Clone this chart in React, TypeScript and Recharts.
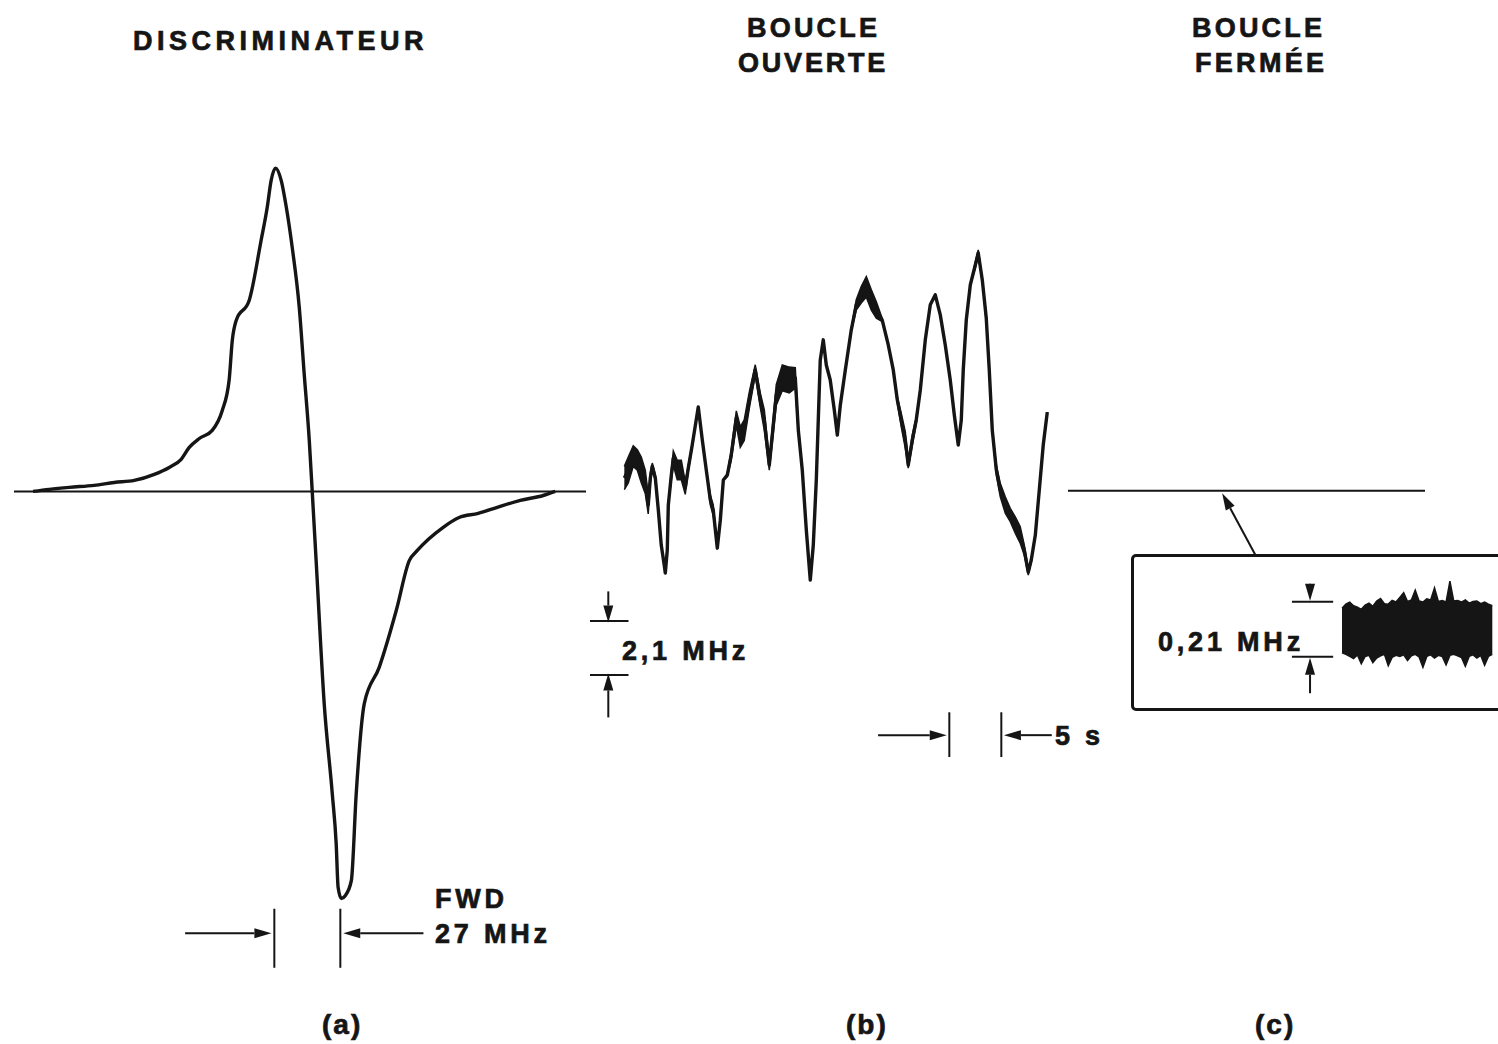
import React from "react";
import {
  LineChart,
  ComposedChart,
  Line,
  Area,
  XAxis,
  YAxis,
  ReferenceLine,
} from "recharts";

const INK = "#151515";
const FONT = "'Liberation Sans', Arial, Helvetica, sans-serif";
const NO_MARGIN = { top: 0, right: 0, bottom: 0, left: 0 };

// (a) discriminator response: frequency offset (MHz) -> normalised output
const discFreq = [
  -114.2, -107.6, -99.4, -89.2, -81.0, -72.8, -64.6, -58.5, -53.6, -50.3,
  -46.2, -40.9, -36.8, -34.0, -32.7, -31.1, -25.8, -20.9, -18.4, -16.8,
  -15.0, -12.7, -10.6, -8.2, -5.3, -3.3, -1.2, 0, 1.6, 4.9,
  8.2, 9.8, 10.6, 11.9, 13.5, 16.0, 18.0, 21.3, 27.4, 34.4,
  39.7, 43.0, 53.6, 60.1, 67.9, 75.7, 85.1, 94.5, 99.4,
];
const discAmp = [
  0, 0.005, 0.01, 0.015, 0.022, 0.027, 0.042, 0.059, 0.079, 0.108,
  0.13, 0.15, 0.199, 0.273, 0.371, 0.42, 0.469, 0.617, 0.698, 0.764,
  0.794, 0.764, 0.698, 0.6, 0.452, 0.29, 0.125, 0, -0.17, -0.521,
  -0.742, -0.865, -0.973, -1.0, -0.993, -0.956, -0.742, -0.521, -0.432, -0.292,
  -0.17, -0.145, -0.088, -0.064, -0.054, -0.039, -0.022, -0.01, 0,
];
const fwdStart = -15.5; // MHz
const fwdWidth = 27; // MHz

// (b) open loop: time (s), frequency (MHz), jitter half-width (MHz)
const openTime = [
  0.1, 0.48, 0.96, 1.35, 1.73, 2.12, 2.4, 2.6, 2.79, 3.08,
  3.37, 3.65, 3.94, 4.04, 4.23, 4.33, 4.62, 4.81, 5.19, 5.58,
  5.96, 6.25, 6.63, 7.21, 7.6, 7.98, 8.37, 8.65, 9.04, 9.33,
  9.62, 10.0, 10.38, 10.87, 11.25, 11.63, 12.12, 12.69, 13.17, 13.56,
  14.04, 14.33, 14.71, 15.29, 15.96, 16.54, 16.83, 17.21, 17.6, 17.98,
  18.27, 18.56, 18.75, 18.94, 19.23, 19.52, 19.9, 20.29, 20.58, 20.87,
  21.35, 21.92, 22.4, 22.88, 23.37, 23.85, 24.33, 24.9, 25.48, 25.96,
  26.35, 26.73, 27.12, 27.4, 27.79, 28.17, 28.56, 29.04, 29.52, 30.0,
  30.48, 30.96, 31.44, 31.83, 32.21, 32.5, 32.69, 32.98, 33.37, 33.85,
  34.13, 34.52, 34.9, 35.19, 35.48, 35.87, 36.25, 36.73, 37.21, 37.69,
  38.17, 38.56, 38.94, 39.23, 39.62, 40.0, 40.38, 40.77,
];
const openFreq = [
  0.51, 0.82, 1.36, 1.21, 0.82, 0.35, -0.54, 0.51, 0.97, 0.51,
  -0.74, -2.1, -2.88, -3.19, -2.3, -0.54, 0.62, 1.28, 0.82, 0.82,
  0.12, 0.89, 1.79, 3.27, 1.98, 0.82, -0.35, -0.74, -2.22, -1.13,
  0.43, 0.62, 1.4, 2.84, 2.1, 2.37, 3.54, 4.71, 3.54, 2.76,
  1.01, 2.18, 3.74, 4.4, 4.32, 4.4, 2.37, 0.82, -1.52, -3.46,
  -2.1, 0.43, 2.76, 5.1, 5.88, 4.9, 4.32, 3.15, 2.18, 3.35,
  4.71, 6.26, 7.24, 7.63, 7.94, 7.43, 7.04, 6.65, 5.68, 4.71,
  3.54, 2.76, 1.98, 1.01, 1.98, 2.76, 3.93, 5.88, 7.24, 7.63,
  6.85, 5.68, 4.32, 2.96, 1.79, 2.76, 4.71, 6.65, 8.02, 8.79,
  9.26, 8.21, 6.73, 4.71, 2.37, 0.82, 0.04, -0.54, -0.93, -1.32,
  -1.71, -2.3, -3.15, -2.68, -1.71, 0.04, 1.79, 3.07,
];
const openJitter = [
  0.45, 0.5, 0.4, 0.4, 0.5, 0.45, 0.35, 0.2, 0.12, 0.12,
  0.06, 0, 0, 0, 0, 0, 0.2, 0.28, 0.38, 0.38,
  0.25, 0.12, 0.06, 0, 0, 0, 0.2, 0.2, 0, 0,
  0, 0.06, 0.2, 0.28, 0.4, 0.4, 0.32, 0.2, 0.28, 0.4,
  0.2, 0.28, 0.4, 0.5, 0.5, 0.4, 0.12, 0, 0, 0,
  0, 0, 0, 0, 0, 0, 0, 0, 0, 0,
  0, 0.05, 0.2, 0.32, 0.4, 0.4, 0.32, 0.06, 0, 0,
  0.12, 0.26, 0.32, 0.12, 0.2, 0.12, 0, 0, 0, 0,
  0, 0, 0, 0, 0, 0, 0, 0, 0, 0.12,
  0.12, 0.06, 0.12, 0.06, 0, 0.2, 0.26, 0.32, 0.26, 0.32,
  0.32, 0.2, 0.12, 0.06, 0, 0, 0, 0,
];
const scaleBarTop = -5.05; // MHz
const scaleBarSpan = 2.1; // MHz
const timeMarkStart = 31.35; // s
const timeMarkSpan = 5; // s

// (c) closed loop: flat trace, plus magnified residual in kHz
const closedTime = [0, 34.3];
const closedFreq = [0, 0];
const insetHigh = [
  80, 96, 104, 90, 84, 76, 92, 100, 88, 108,
  118, 98, 96, 110, 104, 122, 140, 106, 112, 150,
  108, 104, 116, 112, 158, 106, 110, 104, 184, 108,
  110, 104, 112, 100, 106, 108, 98, 104, 96, 90,
];
const insetLow = [
  -90, -96, -104, -112, -98, -132, -104, -100, -128, -110,
  -102, -96, -140, -108, -100, -104, -98, -120, -102, -96,
  -106, -146, -104, -98, -110, -100, -104, -136, -100, -96,
  -102, -108, -142, -104, -98, -110, -100, -138, -104, -96,
];
const insetSpan = 210; // kHz

const discData = discFreq.map((f, i) => ({ f, v: discAmp[i] }));
const openData = openTime.map((t, i) => ({
  t,
  f: openFreq[i],
  band: [openFreq[i] - openJitter[i], openFreq[i] + openJitter[i]],
}));
const closedData = closedTime.map((t, i) => ({ t, f: closedFreq[i] }));
const insetData = insetHigh.map((hi, k) => ({ k, band: [insetLow[k], hi] }));

const seg = (x1: number, y1: number, x2: number, y2: number) => [
  { x: x1, y: y1 },
  { x: x2, y: y2 },
];

const fmtComma = (n: number) => String(n).replace(".", ",");

// line with a filled head at (x2, y2)
function Arrow(props: any) {
  const { x1, y1, x2, y2 } = props;
  const a = Math.atan2(y2 - y1, x2 - x1);
  const len = 17;
  const half = 5;
  const bx = x2 - len * Math.cos(a);
  const by = y2 - len * Math.sin(a);
  const nx = -Math.sin(a) * half;
  const ny = Math.cos(a) * half;
  return (
    <g>
      <line x1={x1} y1={y1} x2={bx} y2={by} stroke={INK} strokeWidth={2} />
      <polygon
        points={`${x2},${y2} ${bx + nx},${by + ny} ${bx - nx},${by - ny}`}
        fill={INK}
      />
    </g>
  );
}

const tick = { stroke: INK, strokeWidth: 2, ifOverflow: "visible" as const };
const arrow = { shape: Arrow, ifOverflow: "visible" as const };

function Label({ x, y, children, size = 27, spacing = 3.8 }: any) {
  return (
    <text
      x={x}
      y={y}
      fill={INK}
      stroke={INK}
      strokeWidth={0.7}
      fontFamily={FONT}
      fontWeight={700}
      fontSize={size}
      style={{ letterSpacing: spacing }}
    >
      {children}
    </text>
  );
}

export default function App() {
  return (
    <div
      style={{
        position: "fixed",
        left: 0,
        top: 0,
        width: 1498,
        height: 1044,
        background: "#fff",
        overflow: "hidden",
      }}
    >
      {/* (a) discriminateur */}
      <div style={{ position: "absolute", left: 14, top: 125 }}>
        <LineChart width={572} height={855} data={discData} margin={NO_MARGIN}>
          <XAxis type="number" dataKey="f" domain={[-122, 112]} hide allowDataOverflow />
          <YAxis type="number" domain={[-1.2, 0.9]} hide allowDataOverflow />
          <ReferenceLine y={0} stroke={INK} strokeWidth={2} />
          <Line
            dataKey="v"
            type="monotone"
            stroke={INK}
            strokeWidth={3.4}
            strokeLinejoin="round"
            dot={false}
            isAnimationActive={false}
          />
          <ReferenceLine segment={seg(fwdStart, -1.025, fwdStart, -1.17)} {...tick} />
          <ReferenceLine
            segment={seg(fwdStart + fwdWidth, -1.025, fwdStart + fwdWidth, -1.17)}
            {...tick}
          />
          <ReferenceLine segment={seg(-52, -1.085, fwdStart - 1.2, -1.085)} {...arrow} />
          <ReferenceLine
            segment={seg(45.5, -1.085, fwdStart + fwdWidth + 1.2, -1.085)}
            {...arrow}
          />
        </LineChart>
      </div>

      {/* (b) boucle ouverte */}
      <div style={{ position: "absolute", left: 590, top: 221 }}>
        <ComposedChart width={520} height={553} data={openData} margin={NO_MARGIN}>
          <XAxis type="number" dataKey="t" domain={[-3.2, 46.8]} hide allowDataOverflow />
          <YAxis type="number" domain={[-11, 10.5]} hide allowDataOverflow />
          <Area
            dataKey="band"
            type="linear"
            stroke={INK}
            strokeWidth={1.5}
            fill={INK}
            fillOpacity={1}
            isAnimationActive={false}
          />
          <Line
            dataKey="f"
            type="linear"
            stroke={INK}
            strokeWidth={3.4}
            strokeLinejoin="round"
            dot={false}
            isAnimationActive={false}
          />
          <ReferenceLine segment={seg(-3.2, scaleBarTop, 0.5, scaleBarTop)} {...tick} />
          <ReferenceLine
            segment={seg(-3.2, scaleBarTop - scaleBarSpan, 0.5, scaleBarTop - scaleBarSpan)}
            {...tick}
          />
          <ReferenceLine segment={seg(-1.44, -3.9, -1.44, scaleBarTop - 0.06)} {...arrow} />
          <ReferenceLine
            segment={seg(-1.44, -8.8, -1.44, scaleBarTop - scaleBarSpan + 0.06)}
            {...arrow}
          />
          <ReferenceLine segment={seg(timeMarkStart, -8.6, timeMarkStart, -10.34)} {...tick} />
          <ReferenceLine
            segment={seg(timeMarkStart + timeMarkSpan, -8.6, timeMarkStart + timeMarkSpan, -10.34)}
            {...tick}
          />
          <ReferenceLine segment={seg(24.5, -9.49, timeMarkStart - 0.25, -9.49)} {...arrow} />
          <ReferenceLine
            segment={seg(41.2, -9.49, timeMarkStart + timeMarkSpan + 0.25, -9.49)}
            {...arrow}
          />
        </ComposedChart>
      </div>

      {/* (c) boucle fermée */}
      <div style={{ position: "absolute", left: 1068, top: 465 }}>
        <LineChart width={357} height={100} data={closedData} margin={NO_MARGIN}>
          <XAxis type="number" dataKey="t" domain={[0, 34.3]} hide allowDataOverflow />
          <YAxis type="number" domain={[-2.9, 1.0]} hide allowDataOverflow />
          <Line
            dataKey="f"
            type="linear"
            stroke={INK}
            strokeWidth={2}
            dot={false}
            isAnimationActive={false}
          />
          <ReferenceLine segment={seg(17.98, -2.49, 14.81, -0.1)} {...arrow} />
        </LineChart>
      </div>

      <div
        style={{
          position: "absolute",
          left: 1131,
          top: 554,
          width: 380,
          height: 157,
          border: `3px solid ${INK}`,
          borderRadius: 5,
          boxSizing: "border-box",
        }}
      />
      <div style={{ position: "absolute", left: 1290, top: 560 }}>
        <ComposedChart width={205} height={145} data={insetData} margin={NO_MARGIN}>
          <XAxis type="number" dataKey="k" domain={[-13.5, 39.7]} hide allowDataOverflow />
          <YAxis type="number" domain={[-290, 265]} hide allowDataOverflow />
          <Area
            dataKey="band"
            type="linear"
            stroke={INK}
            strokeWidth={1.5}
            fill={INK}
            fillOpacity={1}
            isAnimationActive={false}
          />
          <ReferenceLine
            segment={seg(-13, insetSpan / 2, -2.3, insetSpan / 2)}
            {...tick}
          />
          <ReferenceLine
            segment={seg(-13, -insetSpan / 2, -2.3, -insetSpan / 2)}
            {...tick}
          />
          <ReferenceLine segment={seg(-8.3, 170, -8.3, insetSpan / 2 + 4)} {...arrow} />
          <ReferenceLine segment={seg(-8.3, -245, -8.3, -insetSpan / 2 - 4)} {...arrow} />
        </ComposedChart>
      </div>

      <svg
        width={1498}
        height={1044}
        style={{ position: "absolute", left: 0, top: 0, pointerEvents: "none" }}
      >
        <Label x={133} y={50} spacing={4.5}>DISCRIMINATEUR</Label>
        <Label x={747} y={37} spacing={3.2}>BOUCLE</Label>
        <Label x={738} y={72} spacing={2.8}>OUVERTE</Label>
        <Label x={1192} y={37} spacing={3.2}>BOUCLE</Label>
        <Label x={1195} y={72} spacing={3.3}>FERMÉE</Label>

        <Label x={435} y={908}>FWD</Label>
        <Label x={435} y={943}>{`${fwdWidth} MHz`}</Label>
        <Label x={622} y={660}>{`${fmtComma(scaleBarSpan)} MHz`}</Label>
        <Label x={1055} y={745}>{`${timeMarkSpan} s`}</Label>
        <Label x={1158} y={651}>{`${fmtComma(insetSpan / 1000)} MHz`}</Label>

        <Label x={322} y={1034} size={28} spacing={2}>(a)</Label>
        <Label x={846} y={1034} size={28} spacing={2}>(b)</Label>
        <Label x={1255} y={1034} size={28} spacing={2}>(c)</Label>
      </svg>
    </div>
  );
}
